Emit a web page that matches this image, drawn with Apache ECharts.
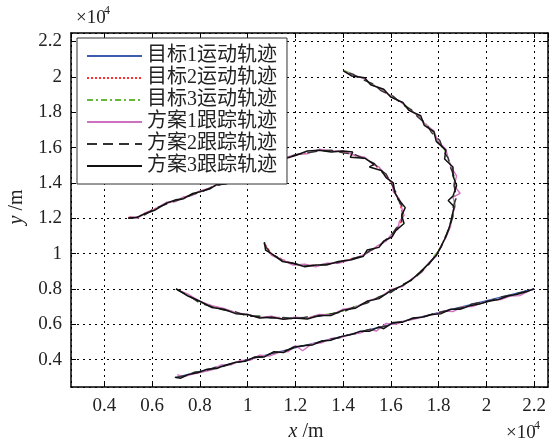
<!DOCTYPE html>
<html>
<head>
<meta charset="utf-8">
<script src="https://cdn.jsdelivr.net/npm/echarts@6/dist/echarts.min.js"></script>
<style>html,body{margin:0;padding:0;background:#fff;}#c{width:550px;height:441px;}</style>
</head>
<body>
<div id="c"></div>
<script>
var seriesNames = ['目标1运动轨迹','目标2运动轨迹','目标3运动轨迹','方案1跟踪轨迹','方案2跟踪轨迹','方案3跟踪轨迹'];
var xTickValues = [4000,6000,8000,10000,12000,14000,16000,18000,20000,22000];
var yTickValues = [4000,6000,8000,10000,12000,14000,16000,18000,20000,22000];

// target trajectories
var target1 = [[7000,3000],[10000,4000],[13000,5000],[16000,6000],[19000,7000],[22000,8000]];
var target2 = [[5000,12040],[5350,12040],[5630,12240],[6600,12840],[7300,13120],[8000,13500],[8700,13870],[9120,13960],[10000,14500],[11000,15100],[12040,15570],[13010,15850],[13970,15760],[14940,15380],[15490,14820],[16040,13980],[16320,13050],[16520,12110],[16390,11740],[16040,10990],[15490,10430],[14800,9870],[13830,9500],[12870,9310],[11900,9400],[11000,9960],[10690,10620]];
var target3 = [[7000,8000],[8000,7250],[9000,6850],[10000,6500],[11000,6400],[12000,6350],[13000,6480],[14000,6750],[15000,7250],[16000,7850],[16900,8550],[17600,9450],[18100,10400],[18450,11500],[18650,12650],[18700,13800],[18530,14900],[18250,15850],[17750,16900],[17200,17750],[16500,18500],[15650,19250],[14850,19900],[14050,20350]];

// scheme 1 tracking
var s1Line = [[7050,3150],[7300,3020],[7700,3180],[8100,3300],[8500,3420],[8900,3700],[9300,3700],[9700,3950],[10100,3960],[10500,4250],[10900,4200],[11300,4400],[11700,4450],[12000,4800],[12300,4500],[12700,4900],[13100,4950],[13500,5200],[13900,5250],[14300,5420],[14700,5500],[15100,5700],[15400,5620],[15800,6050],[16200,6000],[16600,6200],[17000,6300],[17400,6450],[17800,6550],[18200,6750],[18600,6720],[19000,7000],[19400,7000],[19800,7200],[20200,7350],[20600,7400],[21000,7600],[21400,7620],[21800,7900],[22000,8000]];
var s1Small = [[5050,12100],[5400,12000],[5700,12300],[6100,12500],[6600,12900],[7000,12950],[7300,13200],[7700,13300],[8000,13550],[8400,13700],[8700,13900],[9100,13950],[10000,14550],[11000,15050],[11500,15400],[12000,15600],[12500,15650],[13000,15900],[13500,15800],[14000,15800],[14500,15550],[14900,15450],[15300,15000],[15500,14900],[15800,14400],[16050,14000],[16100,13500],[16350,13100],[16450,12600],[16550,12150],[16350,11800],[16300,11400],[16000,11050],[15800,10700],[15450,10450],[15100,10100],[14800,9900],[14300,9650],[13800,9450],[13300,9450],[12850,9250],[12400,9400],[11900,9350],[11450,9650],[11000,9900],[10800,10300],[10700,10600]];
var s1Big = [[7050,7950],[7500,7700],[8000,7300],[8500,7050],[9000,6900],[9500,6650],[10000,6550],[10500,6380],[11000,6450],[11500,6300],[12000,6400],[12500,6350],[13000,6550],[13500,6520],[14000,6850],[14500,6950],[15000,7300],[15500,7500],[16000,7950],[16500,8150],[16900,8600],[17300,8950],[17600,9500],[17900,9850],[18100,10450],[18300,10900],[18500,11550],[18550,12100],[18700,12700],[18600,13200],[18900,13400],[18650,13850],[18750,14400],[18500,14950],[18400,15400],[18300,15900],[17950,16400],[17800,16950],[17450,17300],[17150,17800],[16800,18100],[16450,18550],[16050,18850],[15600,19300],[15200,19550],[14800,19950],[14400,20100],[14050,20300]];

// scheme 2 tracking
var s2Line = [[7000,2980],[7400,3100],[7800,3300],[8200,3350],[8600,3550],[9000,3620],[9400,3800],[9800,3900],[10200,4100],[10600,4150],[11000,4350],[11400,4450],[11800,4600],[12200,4750],[12600,4850],[13000,4980],[13400,5150],[13800,5220],[14200,5400],[14600,5480],[15000,5680],[15400,5780],[15800,5900],[16200,6100],[16600,6180],[17000,6350],[17400,6420],[17800,6600],[18200,6720],[18600,6850],[19000,6950],[19400,7150],[19800,7250],[20200,7350],[20600,7550],[21000,7650],[21400,7780],[21800,7950],[22000,7980]];
var s2Small = [[5000,12000],[5400,12050],[5700,12200],[6100,12550],[6600,12800],[7000,13000],[7300,13100],[7700,13350],[8000,13450],[8400,13700],[8700,13850],[9100,13980],[10000,14450],[11000,15150],[11500,15300],[12000,15600],[12500,15700],[13000,15800],[13500,15850],[14000,15700],[14500,15600],[14900,15350],[15300,15100],[15500,14800],[15800,14500],[16000,14000],[16200,13500],[16300,13050],[16500,12600],[16450,12100],[16450,11750],[16200,11400],[16000,11000],[15700,10700],[15500,10400],[15100,10150],[14800,9850],[14300,9700],[13800,9500],[13300,9400],[12850,9350],[12400,9300],[11900,9450],[11450,9600],[11000,10000],[10800,10300],[10650,10650]];
var s2Big = [[7000,8000],[7500,7650],[8000,7200],[8500,7000],[9000,6800],[9500,6700],[10000,6450],[10500,6450],[11000,6350],[11500,6380],[12000,6300],[12500,6420],[13000,6450],[13500,6600],[14000,6700],[14500,7000],[15000,7200],[15500,7550],[16000,7800],[16500,8250],[16900,8500],[17300,9000],[17600,9400],[17900,9950],[18100,10350],[18300,11000],[18450,11450],[18600,12100],[18600,12600],[18750,13200],[18650,13800],[18650,14350],[18500,14850],[18400,15400],[18200,15800],[18050,16400],[17700,16850],[17500,17300],[17150,17700],[16850,18150],[16450,18450],[16100,18900],[15600,19200],[15250,19600],[14800,19850],[14400,20150],[14000,20350]];

// scheme 3 tracking
var s3Line = [[6950,3000],[7200,2950],[7500,3150],[7900,3250],[8300,3450],[8700,3500],[9100,3700],[9500,3850],[9900,3900],[10300,4150],[10700,4150],[11100,4450],[11500,4400],[11900,4700],[12300,4780],[12700,4820],[13100,5050],[13500,5100],[13900,5300],[14300,5400],[14700,5600],[15100,5600],[15500,5850],[15700,5750],[16100,6100],[16500,6120],[16900,6350],[17300,6400],[17700,6550],[18100,6600],[18500,6850],[18900,6850],[19300,7050],[19700,7150],[20100,7300],[20500,7400],[20900,7600],[21300,7700],[21700,7850],[22000,8000]];
var s3Small = [[5000,12000],[5350,12050],[5700,12250],[6100,12450],[6600,12850],[7000,13050],[7300,13100],[7700,13400],[8000,13500],[8400,13650],[8700,13900],[9100,13950],[10000,14500],[11000,15100],[11500,15350],[12000,15550],[12500,15800],[13000,15850],[13500,15750],[14000,15800],[14400,15750],[14300,15450],[14900,15400],[15300,15050],[15100,14900],[15600,14700],[15800,14300],[16100,14000],[16150,13500],[16300,13100],[16600,12600],[16450,12150],[16550,11700],[16200,11300],[16050,10950],[15700,10700],[15500,10350],[15000,10200],[14850,9850],[14350,9650],[13800,9550],[13300,9350],[12850,9350],[12400,9250],[11900,9450],[11450,9550],[11000,10000],[10750,10200],[10700,10650]];
var s3Big = [[7000,8000],[7500,7600],[8000,7300],[8500,6950],[9000,6850],[9500,6600],[10000,6550],[10500,6350],[11000,6400],[11500,6280],[12000,6350],[12500,6300],[13000,6500],[13500,6500],[14000,6800],[14500,6900],[15000,7300],[15500,7450],[16000,7900],[16500,8200],[16900,8550],[17300,9050],[17600,9450],[17900,9900],[18100,10400],[18300,10950],[18450,11500],[18550,12050],[18650,12650],[18400,13000],[18600,13250],[18750,13850],[18600,14400],[18600,14900],[18250,15350],[18300,15850],[17900,16350],[17800,16900],[17400,17250],[17250,17800],[16750,18100],[16500,18550],[16000,18850],[15700,19300],[15150,19550],[14900,19950],[14350,20050],[14000,20350]];

var SERIF = "'Liberation Serif', 'Times New Roman', serif";
var LEGFONT = "'Liberation Serif', 'Noto Sans CJK SC', serif";
var chart = echarts.init(document.getElementById('c'), null, {renderer:'canvas'});

function mk(name, data, color, type, width){
  return {type:'line', name:name, data:data, symbol:'none', showSymbol:false, silent:true,
    xAxisIndex:0, yAxisIndex:0, animation:false,
    lineStyle:{color:color, type:type, width:width}, itemStyle:{color:color}};
}
var cBlue='#3d5cb0', cRed='#ff3030', cGreen='#66b83a', cPink='#d070c0', cDash='#333333', cBlack='#111111';
var series = [
  mk(seriesNames[0], target1, cBlue, 'solid', 1.3),
  mk(seriesNames[1], target2, cRed, [2,2], 1.3),
  mk(seriesNames[2], target3, cGreen, [6,3,2,3], 1.3),
  mk(seriesNames[3], s1Line, cPink, 'solid', 1.4),
  mk(seriesNames[3], s1Small, cPink, 'solid', 1.4),
  mk(seriesNames[3], s1Big, cPink, 'solid', 1.4),
  mk(seriesNames[4], s2Line, cDash, [10,6], 1.4),
  mk(seriesNames[4], s2Small, cDash, [10,6], 1.4),
  mk(seriesNames[4], s2Big, cDash, [10,6], 1.4),
  mk(seriesNames[5], s3Line, cBlack, 'solid', 1.5),
  mk(seriesNames[5], s3Small, cBlack, 'solid', 1.5),
  mk(seriesNames[5], s3Big, cBlack, 'solid', 1.5)
];

function fmt(v){ return String(+(v/10000).toFixed(2)); }
var axisLineStyle = {color:'#000', width:1.5};
var option = {
  animation:false,
  backgroundColor:'#fff',
  grid:{left:71, right:2, top:33, bottom:54, containLabel:false},
  xAxis:[
    {type:'value', min:2600, max:22580, minInterval:2000, maxInterval:2000, position:'bottom',
     axisLine:{show:true, onZero:false, lineStyle:axisLineStyle},
     axisTick:{show:true, inside:true, length:5, lineStyle:{color:'#000', width:1}},
     axisLabel:{show:true, formatter:fmt, fontSize:19, fontFamily:SERIF, color:'#222', margin:10, showMinLabel:false, showMaxLabel:false},
     splitLine:{show:true, lineStyle:{color:'#000', type:[2,4], width:1}}},
    {type:'value', min:2600, max:22580, minInterval:2000, maxInterval:2000, position:'top',
     axisLine:{show:true, onZero:false, lineStyle:axisLineStyle},
     axisTick:{show:true, inside:true, length:5, lineStyle:{color:'#000', width:1}},
     axisLabel:{show:false}, splitLine:{show:false}}
  ],
  yAxis:[
    {type:'value', min:2450, max:22480, minInterval:2000, maxInterval:2000, position:'left',
     axisLine:{show:true, onZero:false, lineStyle:axisLineStyle},
     axisTick:{show:true, inside:true, length:5, lineStyle:{color:'#000', width:1}},
     axisLabel:{show:true, formatter:fmt, fontSize:19, fontFamily:SERIF, color:'#222', margin:9, showMinLabel:false, showMaxLabel:false},
     splitLine:{show:true, lineStyle:{color:'#000', type:[2,4], width:1}}},
    {type:'value', min:2450, max:22480, minInterval:2000, maxInterval:2000, position:'right',
     axisLine:{show:true, onZero:false, lineStyle:axisLineStyle},
     axisTick:{show:true, inside:true, length:5, lineStyle:{color:'#000', width:1}},
     axisLabel:{show:false}, splitLine:{show:false}}
  ],
  legend:{
    data:seriesNames, orient:'vertical', left:77, top:38,
    itemWidth:55, itemHeight:14, itemGap:2,
    padding:[8,10,8,9],
    backgroundColor:'#fff', borderColor:'#333', borderWidth:1,
    itemStyle:{opacity:0},
    textStyle:{fontFamily:LEGFONT, fontSize:20, color:'#222', lineHeight:20},
    selectedMode:false, z:10
  },
  graphic:[
    {type:'text', x:76, y:18, style:{text:'×10', font:"19px 'Liberation Serif'", fill:'#222', verticalAlign:'middle'}},
    {type:'text', x:104, y:11, style:{text:'4', font:"12px 'Liberation Serif'", fill:'#222', verticalAlign:'middle'}},
    {type:'text', x:506, y:433, style:{text:'×10', font:"19px 'Liberation Serif'", fill:'#222', verticalAlign:'middle'}},
    {type:'text', x:534, y:426, style:{text:'4', font:"12px 'Liberation Serif'", fill:'#222', verticalAlign:'middle'}},
    {type:'text', x:306, y:432, style:{text:'{i|x}{n| /m}', align:'center', verticalAlign:'middle',
      rich:{i:{fontStyle:'italic', fontSize:20, fontFamily:'Liberation Serif', fill:'#222'}, n:{fontSize:20, fontFamily:'Liberation Serif', fill:'#222'}}}},
    {type:'text', x:17, y:207, rotation:Math.PI/2, style:{text:'{i|y}{n| /m}', align:'center', verticalAlign:'middle',
      rich:{i:{fontStyle:'italic', fontSize:20, fontFamily:'Liberation Serif', fill:'#222'}, n:{fontSize:20, fontFamily:'Liberation Serif', fill:'#222'}}}}
  ],
  series:series
};
chart.setOption(option);
</script>
</body>
</html>
